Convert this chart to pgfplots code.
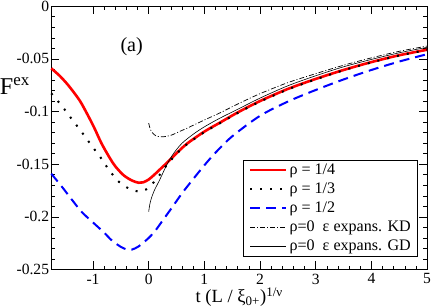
\documentclass[border=0pt]{standalone}
\usepackage{fontspec}
\setmainfont{Liberation Serif}
\usepackage{pgfplots}
\pgfplotsset{compat=1.18}
\definecolor{myred}{RGB}{255,0,0}
\definecolor{myblue}{RGB}{0,0,255}
\begin{document}
\begin{tikzpicture}
\begin{axis}[
  scale only axis,
  width=374pt, height=262pt,
  xmin=-1.75, xmax=5, ymin=-0.25, ymax=0,
  xtick={-1,0,1,2,3,4,5},
  xticklabels={-1,0,1,2,3,4,5},
  ytick={-0.25,-0.2,-0.15,-0.1,-0.05,0},
  yticklabels={-0.25,-0.2,-0.15,-0.1,-0.05,0},
  minor x tick num=4, minor y tick num=4,
  tick align=inside,
  major tick length=8pt, minor tick length=4pt,
  tick style={black, line width=0.6pt},
  axis line style={line width=0.8pt},
  tick label style={font=\fontsize{15.5}{18}\selectfont},
  yticklabel style={inner sep=1pt, xshift=-1pt},
  xticklabel style={inner sep=1pt, yshift=-3pt},
  xlabel={t (L / ξ\textsubscript{0+})\textsuperscript{1/ν}},
  xlabel style={font=\fontsize{18.5}{21}\selectfont, inner sep=1pt, yshift=-1pt},
  clip=false,
  legend cell align=left,
  legend style={at={(0.976,0.05)}, anchor=south east,
    font=\fontsize{16}{18}\selectfont, draw=black, line width=0.6pt,
    row sep=2.8pt, inner xsep=5pt, inner ysep=2pt},
  legend image code/.code={\draw[#1] (0pt,0pt) -- (36pt,0pt);},
]
% rho = 1/4
\addplot[myred, line width=2.6pt, smooth] coordinates {
(-1.75,-0.059) (-1.6,-0.066) (-1.45,-0.0747) (-1.3,-0.085) (-1.2,-0.093)
(-1.0,-0.113) (-0.85,-0.130) (-0.7,-0.144) (-0.6,-0.152) (-0.45,-0.1605)
(-0.3,-0.1655) (-0.18,-0.1676) (-0.1,-0.1672) (0.0,-0.1645) (0.1,-0.1600)
(0.2,-0.1550) (0.36,-0.1470) (0.54,-0.1375) (0.7,-0.1300) (1.0,-0.1190)
(1.27,-0.1108) (1.6,-0.1008) (2.0,-0.0900) (2.5,-0.0785) (3.0,-0.0690)
(3.5,-0.0605) (4.0,-0.0530) (4.5,-0.0465) (5.0,-0.0413)};
\addlegendentry{ρ = 1/4}
% rho = 1/3
\addplot[black, line width=2pt, dash pattern=on 2pt off 8pt, smooth] coordinates {
(-1.75,-0.0827) (-1.57,-0.094) (-1.39,-0.1066) (-1.21,-0.119) (-1.03,-0.132)
(-0.85,-0.1447) (-0.72,-0.155) (-0.54,-0.1665) (-0.36,-0.1730) (-0.2,-0.1758)
(-0.1,-0.1755) (0.0,-0.1720) (0.15,-0.1635) (0.3,-0.1525) (0.45,-0.1430)
(0.54,-0.1380) (0.7,-0.1305) (1.0,-0.1195) (1.27,-0.1113) (1.6,-0.1013)
(2.0,-0.0905) (2.5,-0.0790) (3.0,-0.0694) (3.5,-0.0608) (4.0,-0.0533)
(4.5,-0.0468) (5.0,-0.0415)};
\addlegendentry{ρ = 1/3}
% rho = 1/2
\addplot[myblue, line width=2pt, dash pattern=on 10pt off 6pt, smooth] coordinates {
(-1.75,-0.159) (-1.55,-0.172) (-1.39,-0.183) (-1.2,-0.1955) (-0.97,-0.2068)
(-0.8,-0.2150) (-0.66,-0.2225) (-0.5,-0.2285) (-0.39,-0.2310) (-0.3,-0.2310)
(-0.18,-0.2280) (0.0,-0.2200) (0.12,-0.2130) (0.27,-0.2020) (0.42,-0.1910)
(0.6,-0.1775) (0.8,-0.1640) (1.0,-0.1510) (1.2,-0.1390) (1.5,-0.1235)
(2.0,-0.1040) (2.5,-0.0905) (3.0,-0.0795) (3.5,-0.0695) (4.0,-0.0605)
(4.5,-0.0525) (5.0,-0.0455)};
\addlegendentry{ρ = 1/2}
% KD
\addplot[black, line width=0.7pt, dash pattern=on 5pt off 2pt on 1pt off 2pt, smooth] coordinates {
(0.0,-0.111) (0.03,-0.117) (0.08,-0.121) (0.15,-0.1235) (0.25,-0.1240)
(0.4,-0.1225) (0.55,-0.1190) (0.7,-0.1155) (1.0,-0.1080) (1.27,-0.1015)
(1.6,-0.0928) (2.0,-0.0830) (2.5,-0.0725) (3.0,-0.0640) (3.5,-0.0560)
(4.0,-0.0490) (4.5,-0.0428) (5.0,-0.0378)};
\addlegendentry{ρ=0\ \ ε expans. KD}
% GD
\addplot[black, line width=0.6pt, smooth] coordinates {
(0.0,-0.195) (0.02,-0.188) (0.05,-0.182) (0.1,-0.175) (0.2,-0.1645)
(0.33,-0.1500) (0.45,-0.1395) (0.6,-0.1300) (0.8,-0.1215) (1.0,-0.1145)
(1.27,-0.1065) (1.6,-0.0978) (2.0,-0.0872) (2.5,-0.0755) (3.0,-0.0660)
(3.5,-0.0575) (4.0,-0.0505) (4.5,-0.0442) (5.0,-0.0390)};
\addlegendentry{ρ=0\ \ ε expans. GD}
\node[anchor=west, inner sep=0pt, font=\fontsize{24}{28}\selectfont] at (rel axis cs:-0.137,0.698) {F\textsuperscript{ex}};
\node[font=\fontsize{20}{24}\selectfont] at (rel axis cs:0.214,0.847) {(a)};
\end{axis}
\end{tikzpicture}
\end{document}
